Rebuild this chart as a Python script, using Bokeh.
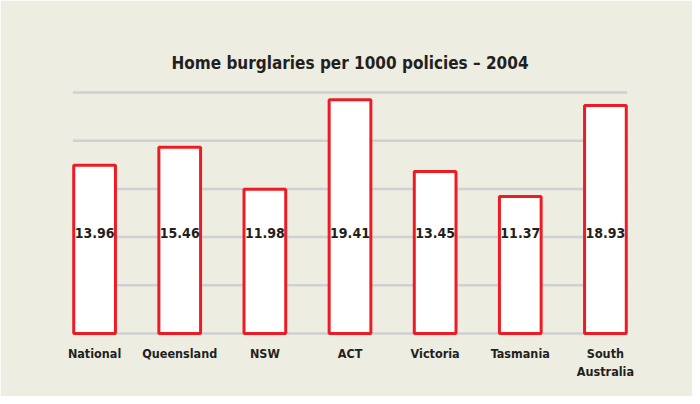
from bokeh.plotting import figure
from bokeh.models import Range1d, ColumnDataSource, Title
from bokeh.core.properties import value
from bokeh.embed import file_html
from bokeh.resources import INLINE

categories = ["National", "Queensland", "NSW", "ACT", "Victoria", "Tasmania", "South\nAustralia"]
values = [13.96, 15.46, 11.98, 19.41, 13.45, 11.37, 18.93]
grid_values = [0, 4, 8, 12, 16, 20]
title_text = "Home burglaries per 1000 policies \u2013 2004"

FONT = "DejaVu Sans Condensed"
BG = "#eeede2"
TXT = "#231f20"
RED = "#ed1c24"
bar_w = 0.49
label_y = 8.35

xs = list(range(len(categories)))

p = figure(width=692, height=396, output_backend="svg", toolbar_location=None,
           x_range=Range1d(-0.6, 6.6), y_range=Range1d(-0.5, 20.5),
           min_border_left=43, min_border_right=36, min_border_top=86, min_border_bottom=57)
p.background_fill_color = BG
p.border_fill_color = BG
p.outline_line_color = BG
p.outline_line_width = 3
p.xgrid.visible = False
p.ygrid.visible = False
p.yaxis.visible = False

t = Title(text=title_text, align="center", text_font=FONT, text_font_size="17px",
          text_font_style="bold", text_color=TXT, standoff=28)
p.add_layout(t, "above")

half = bar_w / 2 + 0.01
gsrc = ColumnDataSource(dict(x0=[xs[0] - half] * len(grid_values),
                             x1=[xs[-1] + half] * len(grid_values),
                             y=grid_values))
p.segment(x0="x0", x1="x1", y0="y", y1="y", source=gsrc, line_color="#cfd0d2", line_width=2.5)

src = ColumnDataSource(dict(x=xs, top=values, lab=[f"{v:.2f}" for v in values],
                            ly=[label_y] * len(values)))
p.vbar(x="x", top="top", bottom=0, width=bar_w, source=src, fill_color="white",
       line_color=RED, line_width=3)
p.text(x="x", y="ly", text="lab", source=src, text_align="center", text_baseline="middle",
       text_font=value(FONT), text_font_size="14px", text_font_style="bold", text_color=TXT)

ax = p.xaxis[0]
ax.ticker = xs
ax.major_label_overrides = {i: c for i, c in enumerate(categories)}
ax.axis_line_color = None
ax.major_tick_line_color = None
ax.minor_tick_line_color = None
ax.major_label_standoff = 0
ax.major_label_text_font = FONT
ax.major_label_text_font_size = "12.5px"
ax.major_label_text_font_style = "bold"
ax.major_label_text_color = TXT

open("out.html", "w").write(file_html(p, INLINE))
